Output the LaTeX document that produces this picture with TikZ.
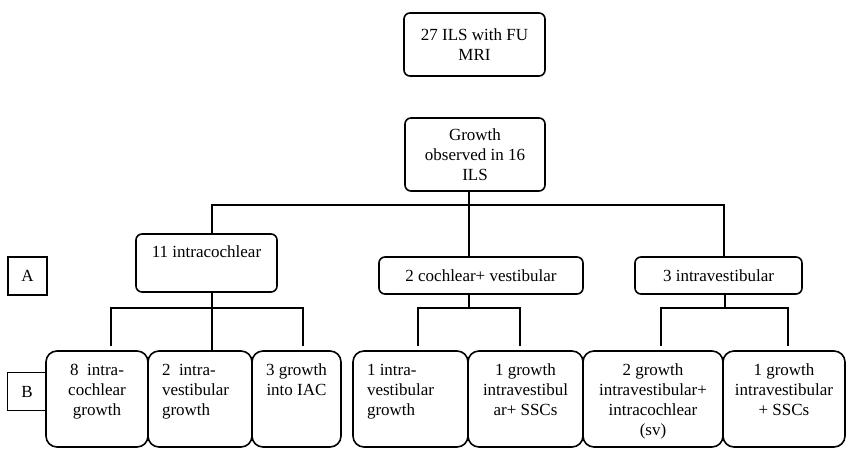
\documentclass[tikz,border=0pt]{standalone}
\usepackage{fontspec}
\setmainfont{Liberation Serif}
\usetikzlibrary{positioning}

\begin{document}
\begin{tikzpicture}[x=1pt, y=-1pt,
    every node/.style={font=\fontsize{17}{20}\selectfont, inner sep=0pt},
    box/.style={draw, line width=1.6pt, rounded corners=6pt},
    cell/.style={draw, line width=1.6pt, rounded corners=11pt, minimum width=#1, minimum height=96pt},
    tag/.style={draw, line width=1.3pt, minimum width=39pt, minimum height=38pt},
    link/.style={line width=1.6pt}]
    \useasboundingbox (0,0) rectangle (846,449);

    % Top of the tree
    \node[box, minimum width=141pt, minimum height=63pt, align=center] (fu) at (474.5,44.5) {27 ILS with FU\\MRI};
    \node[box, minimum width=140pt, minimum height=73pt, align=center] (grow) at (475,154.5) {Growth\\observed in 16\\ILS};

    % Level A
    \node[tag] (A) at (27.5,276) {A};
    \node[box, minimum width=141pt, minimum height=58pt] (intraC) at (206.5,263) {\parbox[t][34pt][t]{141pt}{\centering 11 intracochlear}};
    \node[box, minimum width=204pt, minimum height=37pt] (cochV) at (481,275.5) {2 cochlear+ vestibular};
    \node[box, minimum width=167pt, minimum height=37pt] (intraV) at (718.5,275.5) {3 intravestibular};

    % Level B
    \node[tag] (B) at (27,391.5) {B};
    \node[cell=102pt] (b1) at (97,399) {\parbox[t][70pt][t]{102pt}{\centering 8\enspace intra-\\cochlear\\growth}};
    \node[cell=104pt] (b2) at (200,399) {\parbox[t][70pt][t]{76pt}{\raggedright 2\enspace intra-\\vestibular\\growth}};
    \node[cell=89pt] (b3) at (296.5,399) {\parbox[t][70pt][t]{89pt}{\centering 3 growth\\into IAC}};
    \node[cell=115pt] (b4) at (410.5,399) {\parbox[t][70pt][t]{87pt}{\raggedright 1 intra-\\vestibular\\growth}};
    \node[cell=115pt] (b5) at (525.5,399) {\parbox[t][70pt][t]{115pt}{\centering 1 growth\\intravestibul\\ar+ SSCs}};
    \node[cell=140pt] (b6) at (653,399) {\parbox[t][70pt][t]{140pt}{\centering 2 growth\\intravestibular+\\intracochlear\\(sv)}};
    \node[cell=122pt] (b7) at (784,399) {\parbox[t][70pt][t]{122pt}{\centering 1 growth\\intravestibular\\+ SSCs}};

    % Bus points
    \coordinate (busT) at (469,205);
    \coordinate (busC) at (212,308);
    \coordinate (busV) at (469,308);
    \coordinate (busI) at (725,308);

    % Connectors down to level A
    \draw[link] ([xshift=-6pt]grow.south) -- ([xshift=-12pt]cochV.north);
    \draw[link] ([xshift=5.5pt]intraC.north) |- (busT) -| ([xshift=5.5pt]intraV.north);

    % Connectors down to level B
    \draw[link] ([xshift=5.5pt]intraC.south) -- (busC);
    \draw[link] ([xshift=14pt,yshift=4pt]b1.north) |- (busC) -| ([xshift=6.5pt,yshift=4pt]b3.north);
    \draw[link] (busC) -- ([xshift=12pt]b2.north);

    \draw[link] ([xshift=-12pt]cochV.south) -- (busV);
    \draw[link] ([xshift=7.5pt,yshift=4pt]b4.north) |- (busV) -| ([xshift=-5.5pt,yshift=4pt]b5.north);

    \draw[link] ([xshift=6.5pt]intraV.south) -- (busI);
    \draw[link] ([xshift=8pt,yshift=4pt]b6.north) |- (busI) -| ([xshift=4pt,yshift=4pt]b7.north);
\end{tikzpicture}
\end{document}
